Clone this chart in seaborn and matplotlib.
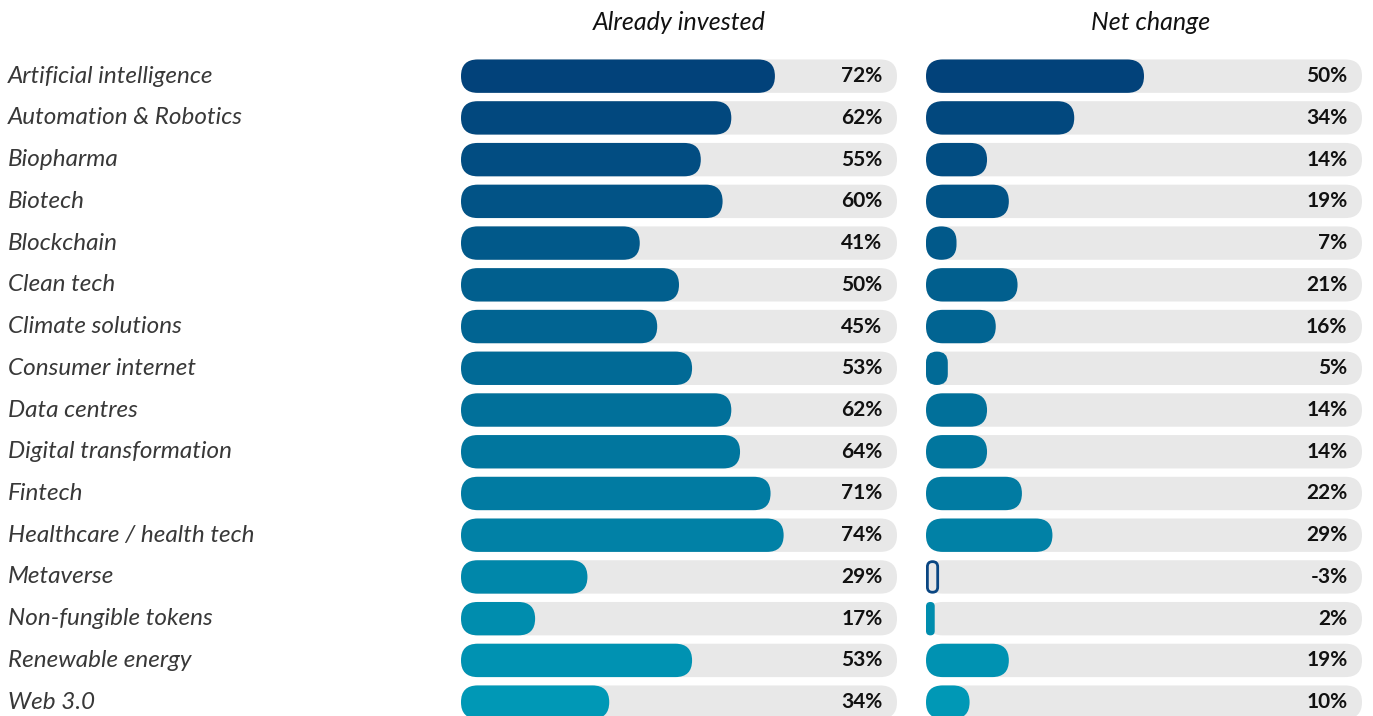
import numpy as np
import seaborn as sns
import matplotlib.pyplot as plt
from matplotlib.patches import FancyBboxPatch
from matplotlib.transforms import blended_transform_factory

# 数据
sectors = ["Artificial intelligence", "Automation & Robotics", "Biopharma", "Biotech",
           "Blockchain", "Clean tech", "Climate solutions", "Consumer internet",
           "Data centres", "Digital transformation", "Fintech", "Healthcare / health tech",
           "Metaverse", "Non-fungible tokens", "Renewable energy", "Web 3.0"]
invested = [72, 62, 55, 60, 41, 50, 45, 53, 62, 64, 71, 74, 29, 17, 53, 34]
net_change = [50, 34, 14, 19, 7, 21, 16, 5, 14, 14, 22, 29, -3, 2, 19, 10]
panel_titles = ["Already invested", "Net change"]

W, H = 1373, 716
track_color = "#E8E8E8"
neg_color = "#0A4682"
palette = sns.blend_palette(["#02427A", "#0098B6"], len(sectors))

sns.set_theme(style="white")
plt.rcParams["font.family"] = ["Lato", "DejaVu Sans"]

fig = plt.figure(figsize=(W / 100, H / 100), dpi=100)
ax1 = fig.add_axes([461 / W, 1 - 723 / H, 436 / W, 667.7 / H])
ax2 = fig.add_axes([926 / W, 1 - 723 / H, 436 / W, 667.7 / H])


def to_pill(ax, rect, face, edge="none", lw=0):
    # 把矩形换成圆角胶囊
    x, y = rect.get_x(), rect.get_y()
    w, h = rect.get_width(), rect.get_height()
    if w < 0:
        x, w = x + w, -w
    p0 = ax.transData.transform((0, 0))
    p1 = ax.transData.transform((1, 1))
    sx, sy = abs(p1[0] - p0[0]), abs(p1[1] - p0[1])
    if lw:
        # 描边往里收一点
        d = lw * 100 / 72 / 2
        x, w = x + d / sx, w - 2 * d / sx
        y, h = y + d / sy, h - 2 * d / sy
    h_x = h * sy / sx
    r = min(h_x / 2, w / 2)
    pill = FancyBboxPatch((x, y), w, h, boxstyle=f"round,pad=0,rounding_size={r}",
                          mutation_aspect=sx / sy, facecolor=face, edgecolor=edge,
                          linewidth=lw, zorder=rect.get_zorder())
    rect.remove()
    ax.add_patch(pill)


for ax, vals in [(ax1, invested), (ax2, net_change)]:
    ax.set_xlim(0, 100)
    ax.set_ylim(len(sectors) - 0.5, -0.5)
    sns.barplot(x=[100] * len(sectors), y=sectors, color=track_color, ax=ax,
                orient="h", width=0.8, saturation=1)
    n0 = len(ax.patches)
    sns.barplot(x=np.abs(vals), y=sectors, hue=sectors, palette=palette, ax=ax,
                orient="h", width=0.8, saturation=1, legend=False)
    ax.set_xlim(0, 100)
    ax.set_ylim(len(sectors) - 0.5, -0.5)
    rects = list(ax.patches)
    for r in rects[:n0]:
        r.set_zorder(1)
        to_pill(ax, r, track_color)
    bars = sorted(rects[n0:], key=lambda b: b.get_y())
    for i, b in enumerate(bars):
        b.set_zorder(2)
        if vals[i] < 0:
            to_pill(ax, b, "none", edge=neg_color, lw=2)
        else:
            to_pill(ax, b, palette[i])
    for i, v in enumerate(vals):
        ax.annotate(f"{v}%", xy=(100, i), xytext=(-10.5, 0), textcoords="offset points",
                    ha="right", va="center", fontsize=15, fontweight="bold", color="#111111")
    ax.set_xticks([])
    ax.set_yticks([])
    ax.set_xlabel("")
    ax.set_ylabel("")
    sns.despine(ax=ax, left=True, bottom=True)

fig.text(679 / W, 1 - 22 / H, panel_titles[0], ha="center", va="center",
         fontsize=18, style="italic", color="#111111")
fig.text(1151 / W, 1 - 22 / H, panel_titles[1], ha="center", va="center",
         fontsize=18, style="italic", color="#111111")

trans = blended_transform_factory(fig.transFigure, ax1.transData)
for i, s in enumerate(sectors):
    ax1.text(8 / W, i, s, transform=trans, ha="left", va="center", fontsize=17.5,
             style="italic", color="#383838")

fig.savefig("out.png", dpi=100)
